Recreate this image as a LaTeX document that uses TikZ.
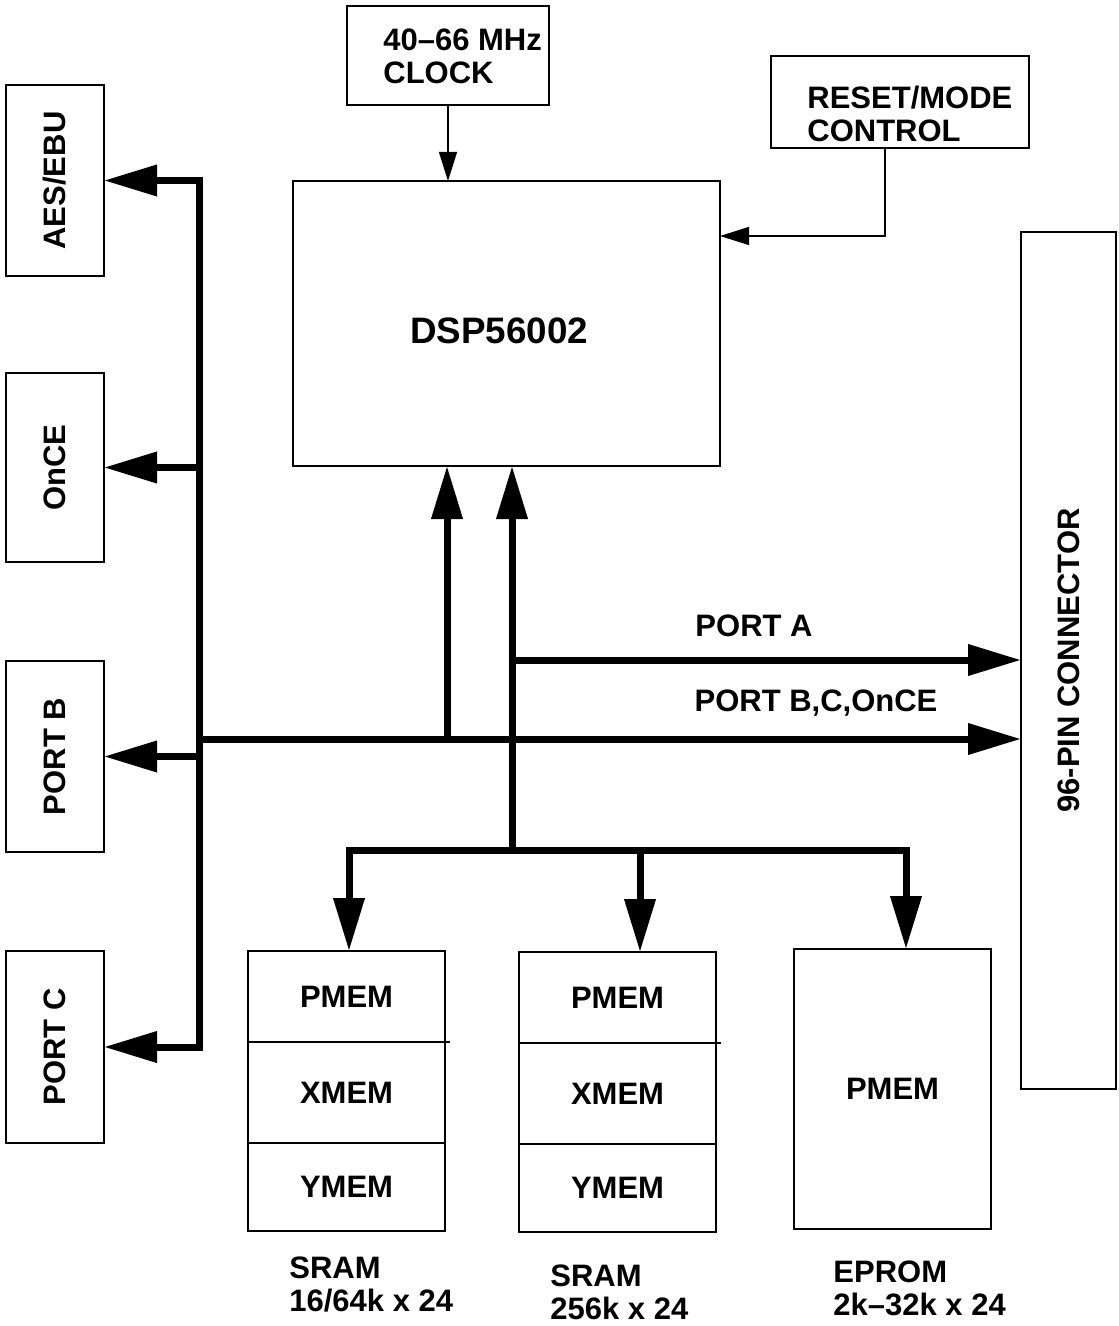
\documentclass[tikz,border=0pt]{standalone}
\usepackage{fontspec}
\usepackage{graphicx}
\setmainfont{Liberation Sans}
\usetikzlibrary{arrows.meta}

\begin{document}
\begin{tikzpicture}[x=0.5pt,y=-0.5pt,
  box/.style={draw,line width=0.7pt,inner sep=0pt,outer sep=0pt,font=\fontsize{15.5}{16}\selectfont\bfseries},
  lbl/.style={inner sep=0pt,align=left,font=\fontsize{15.5}{16.5}\selectfont\bfseries},
  bus/.style={line width=3.5pt},
  fat/.style={bus,-{Triangle[length=26.5pt,width=15pt]}},
  sig/.style={line width=0.6pt,-{Triangle[length=14.5pt,width=9pt]}}]
  \useasboundingbox (0,0) rectangle (1118,1326);
  % processor, clock and reset
  \node[box,minimum width=101pt,minimum height=49.5pt](clock)at(448,55.5){};
  \node[lbl,anchor=west](clocktxt)at(383,56){40–66 MHz\\CLOCK};
  \node[box,minimum width=129pt,minimum height=46pt](reset)at(900,102){};
  \node[lbl,anchor=west](resettxt)at(807,114){RESET/MODE\\CONTROL};
  \node[box,minimum width=213.5pt,minimum height=142.5pt](dsp)at(506.5,323.5){};
  \node[lbl,font=\fontsize{18.4}{20}\selectfont\bfseries](dsptxt)at(499,331){DSP56002};
  \node[box,minimum width=47.5pt,minimum height=428.5pt](conn)at(1068.5,660.5){\rotatebox{90}{96-PIN CONNECTOR}};
  % ports on the left
  \node[box,minimum width=49pt,minimum height=95.5pt](aes)at(55,180.5){\rotatebox{90}{AES/EBU}};
  \node[box,minimum width=49pt,minimum height=94.5pt](once)at(55,467.5){\rotatebox{90}{OnCE}};
  \node[box,minimum width=49pt,minimum height=95.5pt](portb)at(55,756.5){\rotatebox{90}{PORT B}};
  \node[box,minimum width=49pt,minimum height=96pt](portc)at(55,1047){\rotatebox{90}{PORT C}};
  % memories
  \node[box,minimum width=98.5pt,minimum height=45.5pt](pm1)at(346.5,996.5){PMEM};
  \node[box,minimum width=98.5pt,minimum height=50.5pt](xm1)at(346.5,1092.5){XMEM};
  \node[box,minimum width=98.5pt,minimum height=44pt](ym1)at(346.5,1187){YMEM};
  \node[box,minimum width=98.5pt,minimum height=45.5pt](pm2)at(617.5,997.5){PMEM};
  \node[box,minimum width=98.5pt,minimum height=50.5pt](xm2)at(617.5,1093.5){XMEM};
  \node[box,minimum width=98.5pt,minimum height=44pt](ym2)at(617.5,1188){YMEM};
  \node[box,minimum width=98.5pt,minimum height=140pt](ep)at(892.5,1089){PMEM};
  \draw[line width=0.7pt](pm1.south east) -- ++(5,0);
  \draw[line width=0.7pt](pm2.south east) -- ++(5,0);
  \node[lbl,anchor=west](sram1)at(289,1284){SRAM\\16/64k x 24};
  \node[lbl,anchor=west](sram2)at(550,1292){SRAM\\256k x 24};
  \node[lbl,anchor=west](eprom)at(833,1288){EPROM\\2k–32k x 24};
  \node[lbl](patxt)at(754,626){PORT A};
  \node[lbl](pbtxt)at(816,703){PORT B,C,OnCE};
  % control lines
  \coordinate(rs)at(885,236);
  \draw[sig](clock.south) -- (clock.south |- dsp.north);
  \draw[sig](reset.south -| rs) -- (rs) -- (rs -| dsp.east);
  % buses
  \coordinate(bx)at(199,0);
  \coordinate(pb)at(199,739);
  \coordinate(up1)at(447,739);
  \coordinate(pa)at(512,660);
  \coordinate(mb)at(512,850);
  \coordinate(m1)at(349,850);
  \coordinate(m2)at(640,850);
  \coordinate(m3)at(906,850);
  \draw[bus,{Triangle[length=26.5pt,width=15pt]}-{Triangle[length=26.5pt,width=15pt]}]
    (aes.east) -- (aes.east -| bx) -- (portc.east -| bx) -- (portc.east);
  \draw[fat](once.east -| bx) -- (once.east);
  \draw[fat](portb.east -| bx) -- (portb.east);
  \draw[fat](pb) -- (pb -| conn.west);
  \draw[fat](up1) -- (up1 |- dsp.south);
  \draw[fat](mb) -- (mb |- dsp.south);
  \draw[fat](pa) -- (pa -| conn.west);
  \draw[bus,{Triangle[length=26.5pt,width=15pt]}-{Triangle[length=26.5pt,width=15pt]}]
    (m1 |- pm1.north) -- (m1) -- (m3) -- (m3 |- ep.north);
  \draw[fat](m2) -- (m2 |- pm2.north);
\end{tikzpicture}
\end{document}
